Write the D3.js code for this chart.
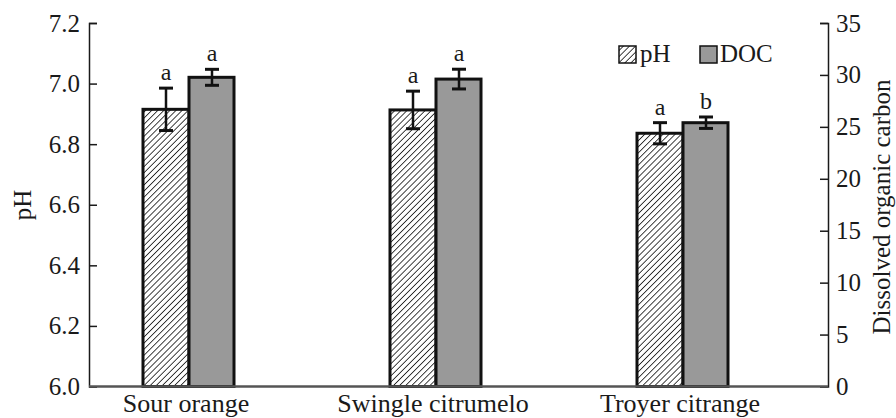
<!DOCTYPE html>
<html>
<head>
<meta charset="utf-8">
<script src="https://cdn.jsdelivr.net/npm/d3@7"></script>
<style>
	body { margin: 0; background: #fff; }
</style>
</head>
<body>
<div id="chart"></div>
<script>
// Values
const categories = ['Sour orange', 'Swingle citrumelo', 'Troyer citrange'];
const phValues = [6.915, 6.913, 6.836];
const phErrors = [0.070, 0.062, 0.035];
const phLetters = ['a', 'a', 'a'];
const docValues = [29.77, 29.6, 25.4];
const docErrors = [0.77, 0.95, 0.55];
const docLetters = ['a', 'a', 'b'];
const phTicks = [6.0, 6.2, 6.4, 6.6, 6.8, 7.0, 7.2];
const docTicks = [0, 5, 10, 15, 20, 25, 30, 35];

const width = 896;
const height = 418;
const plotLeft = 89;
const plotRight = 828;
const plotTop = 23;
const plotBottom = 386.5;
const barWidth = 46;
const serif = 'Liberation Serif, Times New Roman, DejaVu Serif, Noto Serif, serif';
const ink = '#1a1a1a';

const svg = d3.select('#chart')
	.append('svg')
	.attr('width', width)
	.attr('height', height)
	.style('font-family', serif);

// Hatch pattern for the pH bars
const defs = svg.append('defs');
const pattern = defs.append('pattern')
	.attr('id', 'hatch')
	.attr('patternUnits', 'userSpaceOnUse')
	.attr('width', 4.3)
	.attr('height', 4.3)
	.attr('patternTransform', 'rotate(45)');
pattern.append('rect')
	.attr('width', 4.3)
	.attr('height', 4.3)
	.attr('fill', '#fff');
pattern.append('line')
	.attr('x1', 0).attr('y1', 0)
	.attr('x2', 0).attr('y2', 4.3)
	.attr('stroke', '#222')
	.attr('stroke-width', 1.7);

const x = d3.scalePoint()
	.domain(categories)
	.range([plotLeft + 100, plotRight - 145]);

const yPh = d3.scaleLinear()
	.domain([6.0, 7.2])
	.range([plotBottom, plotTop]);

const yDoc = d3.scaleLinear()
	.domain([0, 35])
	.range([plotBottom, plotTop]);

// Left axis, ticks pointing inward
const leftAxis = svg.append('g')
	.attr('transform', `translate(${plotLeft},0)`)
	.call(d3.axisRight(yPh).tickValues(phTicks).tickSize(8).tickFormat(d3.format('.1f')))
	.attr('font-family', null);
leftAxis.select('.domain').attr('stroke', ink).attr('stroke-width', 1.5);
leftAxis.selectAll('.tick line').attr('stroke', ink).attr('stroke-width', 1.5);
leftAxis.selectAll('.tick text')
	.attr('x', -9)
	.attr('text-anchor', 'end')
	.attr('font-size', 25)
	.style('font-family', serif)
	.attr('fill', ink);

// Right axis, ticks pointing inward
const rightAxis = svg.append('g')
	.attr('transform', `translate(${plotRight},0)`)
	.call(d3.axisLeft(yDoc).tickValues(docTicks).tickSize(8))
	.attr('font-family', null);
rightAxis.select('.domain').attr('stroke', ink).attr('stroke-width', 1.5);
rightAxis.selectAll('.tick line').attr('stroke', ink).attr('stroke-width', 1.5);
rightAxis.selectAll('.tick text')
	.attr('x', 8)
	.attr('text-anchor', 'start')
	.attr('font-size', 25)
	.style('font-family', serif)
	.attr('fill', ink);

// Bars
const groups = svg.append('g')
	.selectAll('g')
	.data(categories)
	.join('g');

groups.append('rect')
	.attr('x', (d) => x(d) - barWidth)
	.attr('y', (d, i) => yPh(phValues[i]))
	.attr('width', barWidth)
	.attr('height', (d, i) => plotBottom - yPh(phValues[i]))
	.attr('fill', 'url(#hatch)')
	.attr('stroke', '#111')
	.attr('stroke-width', 3);

groups.append('rect')
	.attr('x', (d) => x(d))
	.attr('y', (d, i) => yDoc(docValues[i]))
	.attr('width', barWidth - 1)
	.attr('height', (d, i) => plotBottom - yDoc(docValues[i]))
	.attr('fill', '#999')
	.attr('stroke', '#111')
	.attr('stroke-width', 3);

// Error bars
function errorBar(sel, cx, yHi, yLo) {
	sel.append('line')
		.attr('x1', cx).attr('x2', cx)
		.attr('y1', yHi).attr('y2', yLo)
		.attr('stroke', '#111').attr('stroke-width', 2.5);
	[yHi, yLo].forEach((yy) => {
		sel.append('line')
			.attr('x1', cx - 7).attr('x2', cx + 7)
			.attr('y1', yy).attr('y2', yy)
			.attr('stroke', '#111').attr('stroke-width', 3);
	});
}

groups.each(function (d, i) {
	const g = d3.select(this);
	const cxPh = x(d) - barWidth / 2;
	const cxDoc = x(d) + barWidth / 2;
	errorBar(g, cxPh, yPh(phValues[i] + phErrors[i]), yPh(phValues[i] - phErrors[i]));
	errorBar(g, cxDoc, yDoc(docValues[i] + docErrors[i]), yDoc(docValues[i] - docErrors[i]));

	g.append('text')
		.attr('x', cxPh)
		.attr('y', yPh(phValues[i] + phErrors[i]) - 8)
		.attr('text-anchor', 'middle')
		.attr('font-size', 24)
		.attr('fill', ink)
		.text(phLetters[i]);
	g.append('text')
		.attr('x', cxDoc)
		.attr('y', yDoc(docValues[i] + docErrors[i]) - 8)
		.attr('text-anchor', 'middle')
		.attr('font-size', 24)
		.attr('fill', ink)
		.text(docLetters[i]);
});

// Bottom axis line
svg.append('line')
	.attr('x1', plotLeft).attr('x2', plotRight)
	.attr('y1', plotBottom).attr('y2', plotBottom)
	.attr('stroke', '#555')
	.attr('stroke-width', 2.5);

// Category labels
svg.append('g')
	.selectAll('text')
	.data(categories)
	.join('text')
	.attr('x', (d) => x(d) - 3)
	.attr('y', 412)
	.attr('text-anchor', 'middle')
	.attr('font-size', 26)
	.attr('fill', ink)
	.text((d) => d);

// Axis titles
svg.append('text')
	.attr('transform', 'translate(31,205) rotate(-90)')
	.attr('text-anchor', 'middle')
	.attr('font-size', 25)
	.attr('fill', ink)
	.text('pH');

svg.append('text')
	.attr('transform', 'translate(890,207) rotate(-90)')
	.attr('text-anchor', 'middle')
	.attr('font-size', 25)
	.attr('fill', ink)
	.text('Dissolved organic carbon');

// Legend
const legend = svg.append('g');
legend.append('rect')
	.attr('x', 619).attr('y', 46)
	.attr('width', 17).attr('height', 17)
	.attr('fill', 'url(#hatch)')
	.attr('stroke', '#111').attr('stroke-width', 1.5);
legend.append('text')
	.attr('x', 640).attr('y', 62)
	.attr('font-size', 25)
	.attr('fill', ink)
	.text('pH');
legend.append('rect')
	.attr('x', 700).attr('y', 46)
	.attr('width', 17).attr('height', 17)
	.attr('fill', '#999')
	.attr('stroke', '#111').attr('stroke-width', 1.5);
legend.append('text')
	.attr('x', 720).attr('y', 62)
	.attr('font-size', 25)
	.attr('fill', ink)
	.text('DOC');
</script>
</body>
</html>
